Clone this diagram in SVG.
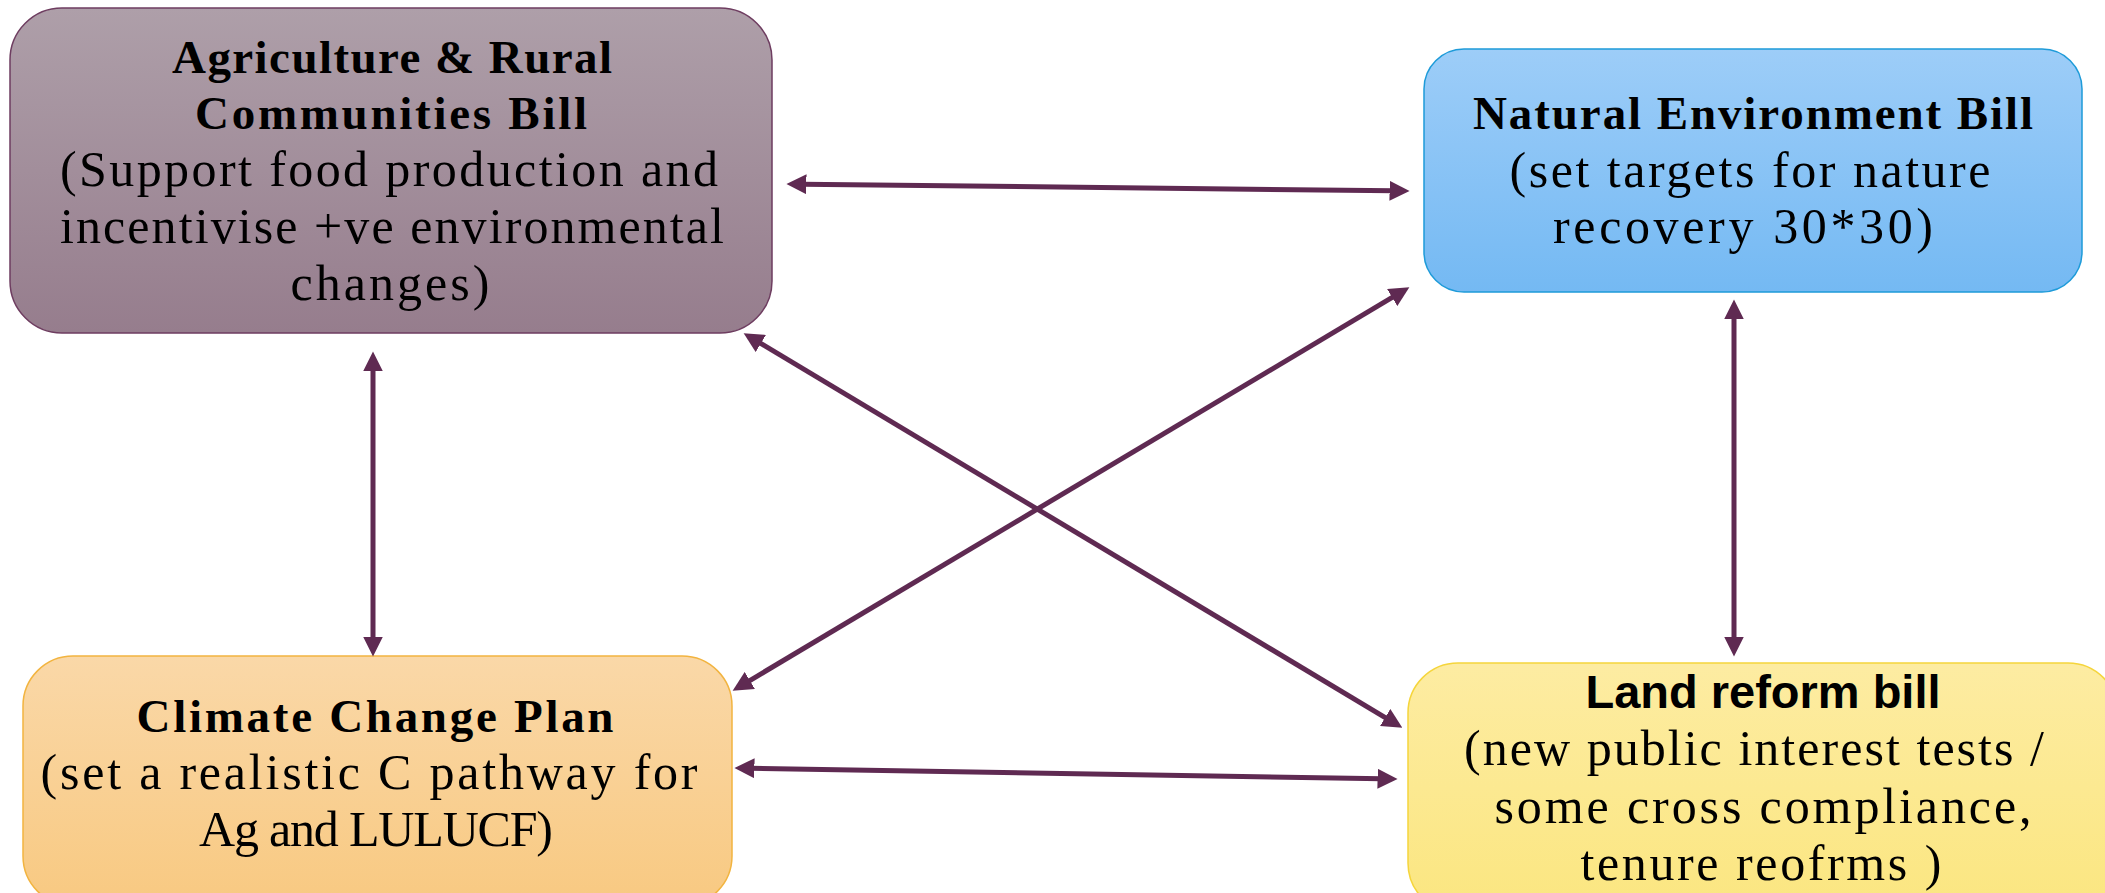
<svg xmlns="http://www.w3.org/2000/svg" width="2105" height="893" viewBox="0 0 2105 893">
<style>
.t{font-family:"Liberation Serif","Times New Roman",serif;font-size:50px;fill:#000;text-anchor:middle}
.b{font-weight:bold;font-size:47px}
.s{font-family:"Liberation Sans",Arial,sans-serif;font-size:46px;font-weight:bold;fill:#000;text-anchor:middle}
.c{stroke:#5f2a52;stroke-width:5;fill:none;marker-start:url(#ah);marker-end:url(#ah)}
</style>
<defs>
<linearGradient id="g1" x1="0" y1="0" x2="0" y2="1"><stop offset="0" stop-color="#ae9fa9"/><stop offset="1" stop-color="#967d8d"/></linearGradient>
<linearGradient id="g2" x1="0" y1="0" x2="0" y2="1"><stop offset="0" stop-color="#9dcdf8"/><stop offset="1" stop-color="#74b9f3"/></linearGradient>
<linearGradient id="g3" x1="0" y1="0" x2="0" y2="1"><stop offset="0" stop-color="#fad8a8"/><stop offset="1" stop-color="#f8c981"/></linearGradient>
<linearGradient id="g4" x1="0" y1="0" x2="0" y2="1"><stop offset="0" stop-color="#fdeca2"/><stop offset="1" stop-color="#fbe680"/></linearGradient>
<marker id="ah" markerUnits="userSpaceOnUse" markerWidth="20" markerHeight="20" viewBox="0 0 18 18" refX="4" refY="9" orient="auto-start-reverse"><path d="M0,0 L18,9 L0,18 z" fill="#5f2a52"/></marker>
</defs>
<g id="agriculture">
<rect x="10" y="8" width="762" height="325" rx="52" ry="52" fill="url(#g1)" stroke="#6e3d60" stroke-width="1.5"/>
<text class="t b" x="392" y="73" textLength="440" lengthAdjust="spacing">Agriculture &amp; Rural</text>
<text class="t b" x="391" y="129" textLength="392" lengthAdjust="spacing">Communities Bill</text>
<text class="t" x="389" y="186" textLength="658" lengthAdjust="spacing">(Support food production and</text>
<text class="t" x="392" y="243" textLength="664" lengthAdjust="spacing">incentivise +ve environmental</text>
<text class="t" x="390" y="300" textLength="199" lengthAdjust="spacing">changes)</text>
</g>
<g id="natural">
<rect x="1424" y="49" width="658" height="243" rx="40" ry="40" fill="url(#g2)" stroke="#1e9bd9" stroke-width="1.5"/>
<text class="t b" x="1753" y="129" textLength="560" lengthAdjust="spacing">Natural Environment Bill</text>
<text class="t" x="1750" y="187" textLength="481" lengthAdjust="spacing">(set targets for nature</text>
<text class="t" x="1743" y="243" textLength="380" lengthAdjust="spacing">recovery 30*30)</text>
</g>
<g id="climate">
<rect x="23" y="656" width="709" height="250" rx="50" ry="50" fill="url(#g3)" stroke="#f2b440" stroke-width="1.5"/>
<text class="t b" x="375" y="732" textLength="477" lengthAdjust="spacing">Climate Change Plan</text>
<text class="t" x="369" y="789" textLength="657" lengthAdjust="spacing">(set a realistic C pathway for</text>
<text class="t" x="376" y="846" textLength="354" lengthAdjust="spacing">Ag and LULUCF)</text>
</g>
<g id="land">
<rect x="1408" y="663" width="710" height="250" rx="50" ry="50" fill="url(#g4)" stroke="#f5d53c" stroke-width="1.5"/>
<text class="s" x="1763" y="708" textLength="355" lengthAdjust="spacingAndGlyphs">Land reform bill</text>
<text class="t" x="1754" y="765" textLength="580" lengthAdjust="spacing">(new public interest tests /</text>
<text class="t" x="1763" y="823" textLength="537" lengthAdjust="spacing">some cross compliance,</text>
<text class="t" x="1761" y="880" textLength="361" lengthAdjust="spacing">tenure reofrms )</text>
</g>
<g id="connectors">
<line class="c" x1="802" y1="184.2" x2="1394" y2="190.8"/>
<line class="c" x1="373" y1="367" x2="373" y2="641"/>
<line class="c" x1="1734" y1="315" x2="1734" y2="641"/>
<line class="c" x1="757" y1="341.2" x2="1389" y2="719.8"/>
<line class="c" x1="1396" y1="295.2" x2="746" y2="682.8"/>
<line class="c" x1="750" y1="768.2" x2="1382" y2="778.8"/>
</g>
</svg>
